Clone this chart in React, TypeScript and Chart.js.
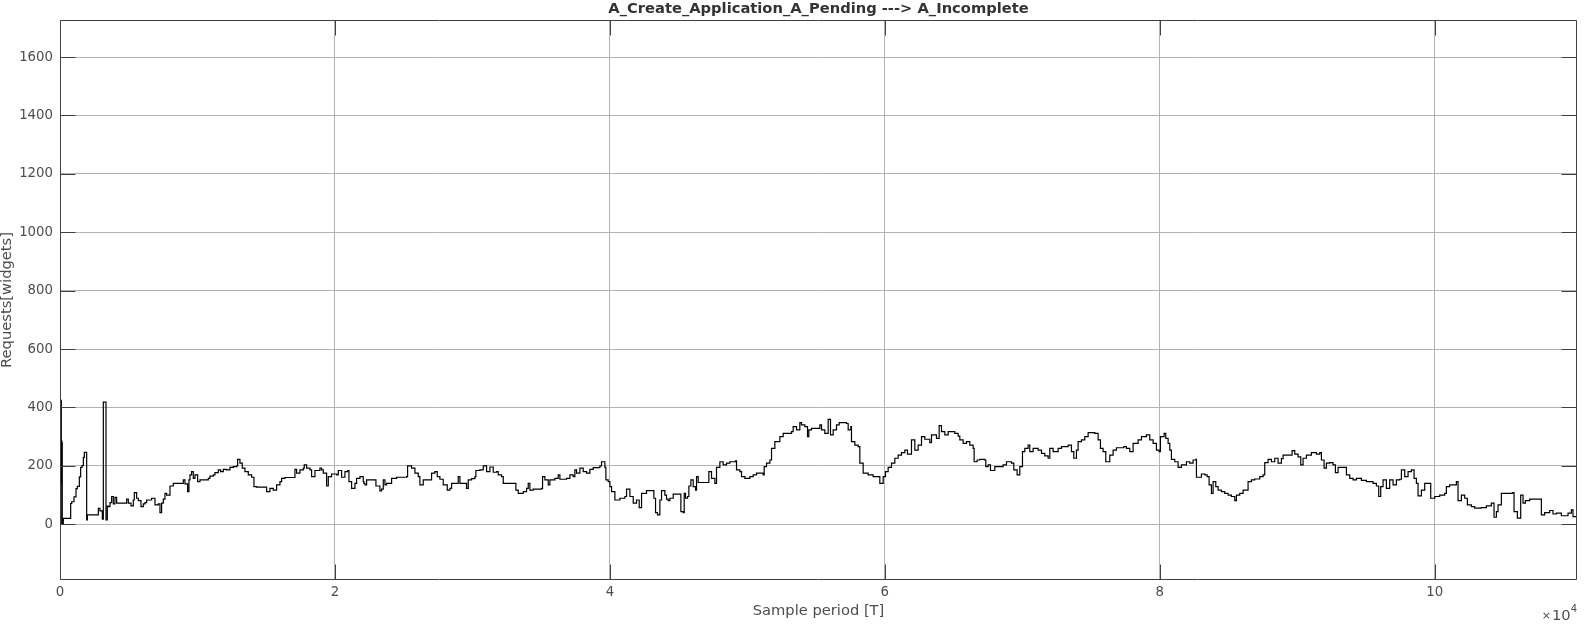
import { useEffect, useRef } from 'react';
import { Chart, registerables } from 'chart.js';

Chart.register(...registerables);

const chartTitle = 'A_Create_Application_A_Pending ---> A_Incomplete';
const xAxisLabel = 'Sample period [T]';
const yAxisLabel = 'Requests[widgets]';
const xExponentBase = '10';
const xExponentPower = '4';
const xTickValues = [0, 20000, 40000, 60000, 80000, 100000];
const yTickValues = [0, 200, 400, 600, 800, 1000, 1200, 1400, 1600];
const xMin = 0;
const xMax = 110350;
const yMin = -191;
const yMax = 1727;

const sampleIndex = [
  0, 70, 95, 115, 130, 145, 165, 240, 777, 850, 1018, 1164, 1261, 1406, 1503, 1600, 1697, 1770, 1940, 1990, 2788, 2909, 3079, 3152, 3345, 3442,
  3515, 3636, 3757, 3878, 4000, 4121, 4848, 4969, 5163, 5333, 5406, 5575, 5697, 5890, 6060, 6181, 6303, 6666, 6909, 7151, 7272, 7393, 7515, 7636, 7757, 8000, 8242, 8969, 9090, 9284, 9381, 9454, 9575, 9696, 9818, 10012, 10181, 10787, 10908, 11151, 11272, 11515, 11684, 11878, 12121, 12363, 12606, 12848, 12921, 13090, 13260, 13454, 13696, 13939, 14109, 14303, 15030, 15272, 15515, 15757, 16000, 16121, 16363, 17090, 17212, 17454, 17697, 17769, 17939, 18181, 18303, 18545, 18909, 19030, 19151, 19393, 19515, 19757, 20121, 20242, 20484, 20727, 20921, 21018, 21212, 21454, 21575, 21818, 22060,
  22109, 22182, 22303, 22982, 23272, 23394, 23515, 23636, 23757, 24121, 24484, 25212, 25284, 25575, 25818, 26060, 26181, 26424, 27030, 27272, 27442, 27636, 27878, 28169, 28363, 28484, 28969, 29090, 29575, 29696, 29939, 30181, 30254, 30545, 30787, 31030, 31272, 31515, 31757, 31878, 32121, 32242, 33163, 33333, 33697, 33939, 34060, 34181, 34424, 35030, 35103, 35272, 35515, 35636, 35999, 36242, 36363, 36848, 37090, 37333, 37454, 37575, 37818, 38060, 38303, 38545, 38787, 39272, 39393, 39636, 39709, 39878, 40000, 40121, 40363, 40727, 41090, 41212, 41454, 41697, 41939, 42133, 42303, 42666, 43200, 43321, 43466, 43636, 43757, 43999,
  44121, 44242, 44364, 44606, 45164, 45333, 45406, 45503, 45648, 45745, 45891, 46060, 46230, 46303, 46424, 47200, 47394, 47636, 47757, 48000, 48242, 48485, 48727, 49139, 49212, 49454, 49575, 49818, 50182, 50424, 50667, 51151, 51224, 51394, 51636, 51757, 52000, 52363, 52606, 53212, 53333, 53576, 53818, 53939, 54182, 54375, 54472, 54666, 55273, 55394, 55636, 55878, 56048, 56242, 56485, 56678, 57212, 57333, 57527, 57575, 57818, 58060, 58182, 58424, 58788, 59151, 59636, 59879, 60048, 60242, 60485, 60727, 60970, 61212, 61454, 61648, 61939, 62182, 62424, 62667, 62909, 63273, 63394, 63757, 63951, 64121, 64364, 64606, 65091, 65333, 65454, 65697, 65939, 66182, 66424, 66497,
  66715, 66909, 67273, 67345, 67515, 67685, 68000, 68606, 68848, 69212, 69382, 69624, 69818, 70012, 70182, 70424, 70545, 70788, 71151, 71394, 71636, 71879, 72000, 72242, 72606, 72848, 73333, 73575, 73745, 73939, 74060, 74303, 74545, 74788, 75273, 75515, 75685, 75879, 76073, 76364, 76606, 76848, 77382, 77575, 77818, 78060, 78424, 78667, 79030, 79273, 79515, 79757, 79951, 80048, 80315, 80436, 80606, 80727, 80848, 81091, 81333, 81576, 81939, 82182, 82424, 82618, 82667, 83030, 83273, 83442, 83588, 83757, 83879, 84073, 84242, 84485, 84727, 84970, 85212, 85454, 85576, 85818, 86060, 86424, 86667, 86909, 87273, 87515, 87636, 87879, 88121, 88364,
  88606, 88848, 88970, 89624, 89818, 90061, 90255, 90424, 90667, 91030, 91394, 91636, 91758, 91952, 92121, 92364, 92606, 92776, 92970, 93576, 93818, 94061, 94303, 94667, 95030, 95515, 95758, 95927, 96072, 96242, 96485, 96727, 96970, 97212, 97455, 97576, 97818, 98061, 98303, 98497, 98667, 98788, 99030, 99273, 99709, 100000, 100364, 100727, 100848, 101091, 101576, 101697, 101940, 102182, 102376, 102667, 102909, 103394, 103758, 104121, 104315, 104485, 104606, 104848, 105648, 105770, 106012, 106255, 106424, 106594, 106909, 107758, 108000, 108364, 108606, 108848, 109212, 109697, 109939, 110061, 110327,
];

const requests = [
  0, 424, 140, 286, 150, 280, 0, 20, 71, 77, 94, 122, 130, 162, 195, 201, 229, 246, 15, 32, 54, 46, 17, 418, 15, 62,
  60, 74, 95, 70, 92, 72, 86, 72, 63, 83, 108, 89, 81, 60, 70, 74, 83, 89, 66, 70, 40, 72, 86, 106, 100, 131, 140, 152, 138, 112, 152, 169, 180, 157, 169, 146, 152, 157, 165, 169, 177, 186, 180, 188, 186, 195, 197, 200, 222, 209, 192, 180, 169, 161, 129, 127, 112, 123, 117, 135, 146, 157, 160, 188, 175, 186, 192, 203, 192, 186, 163, 184, 192, 186, 175, 131, 163, 172, 169, 184, 161, 180, 184, 146, 123, 140, 157, 163, 146,
  140, 135, 152, 131, 114, 120, 152, 135, 140, 157, 161, 163, 200, 192, 175, 163, 135, 152, 175, 180, 163, 154, 135, 117, 123, 140, 163, 140, 123, 152, 156, 163, 184, 186, 200, 180, 196, 178, 180, 169, 163, 140, 117, 106, 112, 123, 140, 117, 120, 123, 163, 152, 135, 152, 157, 169, 154, 157, 169, 163, 186, 175, 192, 180, 175, 188, 194, 200, 214, 195, 152, 146, 129, 112, 83, 89, 95, 120, 95, 72, 83, 57, 106, 115, 89, 40, 32, 83, 115, 100,
  86, 81, 89, 103, 43, 40, 106, 89, 95, 131, 152, 129, 117, 163, 143, 180, 157, 140, 195, 214, 203, 209, 214, 217, 186, 180, 163, 157, 163, 169, 175, 169, 197, 209, 220, 260, 283, 300, 311, 317, 334, 323, 348, 340, 334, 300, 323, 328, 340, 323, 311, 359, 306, 323, 340, 348, 345, 323, 334, 283, 271, 266, 209, 175, 169, 163, 140, 163, 180, 195, 209, 226, 237, 245, 254, 240, 289, 254, 271, 300, 291, 279, 306, 294, 338, 317, 306, 317, 311, 302, 289, 277, 283, 271, 260, 214,
  220, 222, 220, 197, 203, 184, 197, 203, 214, 209, 186, 169, 197, 249, 260, 271, 249, 260, 254, 243, 234, 226, 260, 249, 260, 266, 271, 249, 226, 254, 283, 289, 300, 314, 311, 289, 260, 249, 214, 237, 254, 262, 266, 260, 249, 277, 289, 300, 306, 289, 277, 254, 249, 300, 311, 294, 277, 254, 222, 214, 195, 203, 214, 209, 220, 222, 161, 172, 169, 163, 135, 106, 146, 129, 117, 112, 106, 100, 95, 81, 100, 106, 117, 146, 152, 155, 163, 169, 211, 222, 214, 226,
  209, 225, 237, 252, 240, 231, 203, 226, 237, 245, 240, 245, 220, 192, 209, 211, 203, 177, 195, 169, 157, 152, 157, 150, 146, 140, 131, 95, 129, 152, 123, 152, 135, 152, 154, 186, 163, 180, 186, 157, 140, 97, 117, 140, 89, 95, 100, 106, 129, 135, 146, 81, 100, 89, 66, 60, 55, 57, 63, 72, 24, 43, 66, 106, 108, 43, 21, 100, 72, 81, 86, 32, 40, 47, 35, 38, 29, 38, 49, 26, 32,
];

const FONT = '"DejaVu Sans", sans-serif';
const TEXT_COLOR = '#4d4d4d';
const AXIS_COLOR = '#404040';

const framePlugin = {
  id: 'matlabFrame',
  afterDraw(chart: any) {
    const { ctx, chartArea: a, scales } = chart;
    const xs = scales.x;
    const ys = scales.y;
    const L = Math.round(a.left) + 0.5;
    const R = Math.round(a.right) - 0.5;
    const T = Math.round(a.top) + 0.5;
    const B = Math.round(a.bottom) - 0.5;
    ctx.save();
    ctx.strokeStyle = AXIS_COLOR;
    ctx.lineWidth = 1;
    ctx.beginPath();
    ctx.rect(L, T, R - L, B - T);
    const tl = 15;
    xTickValues.forEach((v) => {
      const px = Math.round(xs.getPixelForValue(v)) + 0.5;
      ctx.moveTo(px, B);
      ctx.lineTo(px, B - tl);
      ctx.moveTo(px, T);
      ctx.lineTo(px, T + tl);
    });
    yTickValues.forEach((v) => {
      const py = Math.round(ys.getPixelForValue(v)) + 0.5;
      ctx.moveTo(L, py);
      ctx.lineTo(L + tl, py);
      ctx.moveTo(R, py);
      ctx.lineTo(R - tl, py);
    });
    ctx.stroke();

    const cx = (a.left + a.right) / 2;
    const cy = (a.top + a.bottom) / 2;

    ctx.fillStyle = '#333333';
    ctx.font = `bold 14.7px ${FONT}`;
    ctx.textAlign = 'center';
    ctx.textBaseline = 'alphabetic';
    ctx.fillText(chartTitle, cx, 13);

    ctx.fillStyle = TEXT_COLOR;
    ctx.font = `14.7px ${FONT}`;
    ctx.textBaseline = 'middle';
    ctx.fillText(xAxisLabel, cx, 611);

    ctx.save();
    ctx.translate(7, cy);
    ctx.rotate(-Math.PI / 2);
    ctx.textAlign = 'center';
    ctx.textBaseline = 'middle';
    ctx.fillText(yAxisLabel, 0, 0);
    ctx.restore();

    ctx.textBaseline = 'alphabetic';
    ctx.textAlign = 'right';
    ctx.font = `10px ${FONT}`;
    const powW = ctx.measureText(xExponentPower).width;
    ctx.fillText(xExponentPower, a.right, 612);
    ctx.font = `14.7px ${FONT}`;
    const baseW = ctx.measureText(xExponentBase).width;
    ctx.fillText(xExponentBase, a.right - powW, 620);
    ctx.font = `11px ${FONT}`;
    ctx.fillText('\u00d7', a.right - powW - baseW - 1, 619);
    ctx.restore();
  },
};

export default function App() {
  const canvasRef = useRef<HTMLCanvasElement | null>(null);

  useEffect(() => {
    const canvas = canvasRef.current;
    if (!canvas) return;
    const points = sampleIndex.map((x, i) => ({ x, y: requests[i] }));
    const chart = new Chart(canvas, {
      type: 'line',
      data: {
        datasets: [
          {
            data: points,
            borderColor: '#000000',
            borderWidth: 1.2,
            pointRadius: 0,
            stepped: true,
            fill: false,
            tension: 0,
          },
        ],
      },
      options: {
        animation: false,
        responsive: false,
        devicePixelRatio: 1,
        parsing: false,
        normalized: true,
        layout: { padding: { top: 20, right: 13, left: 0, bottom: 0 } },
        plugins: {
          legend: { display: false },
          tooltip: { enabled: false },
          title: { display: false },
        },
        scales: {
          x: {
            type: 'linear',
            min: xMin,
            max: xMax,
            afterBuildTicks: (scale: any) => {
              scale.ticks = xTickValues.map((v) => ({ value: v }));
            },
            afterFit: (scale: any) => {
              scale.height = 48;
            },
            grid: { color: '#b3b3b3', lineWidth: 1, drawTicks: false },
            border: { display: false },
            ticks: {
              padding: 5,
              color: TEXT_COLOR,
              font: { family: FONT, size: 13.3 },
              maxRotation: 0,
              autoSkip: false,
              callback: (v: any) => String(Number(v) / 10000),
            },
          },
          y: {
            type: 'linear',
            min: yMin,
            max: yMax,
            afterBuildTicks: (scale: any) => {
              scale.ticks = yTickValues.map((v) => ({ value: v }));
            },
            afterFit: (scale: any) => {
              scale.width = 60;
            },
            grid: { color: '#b3b3b3', lineWidth: 1, drawTicks: false },
            border: { display: false },
            ticks: {
              padding: 7,
              color: TEXT_COLOR,
              font: { family: FONT, size: 13.3 },
              autoSkip: false,
              callback: (v: any) => String(v),
            },
          },
        },
      },
      plugins: [framePlugin],
    });
    return () => chart.destroy();
  }, []);

  return (
    <div style={{ position: 'absolute', left: 0, top: 0, width: 1590, height: 628, background: '#ffffff' }}>
      <canvas ref={canvasRef} width={1590} height={628} style={{ display: 'block' }} />
    </div>
  );
}
